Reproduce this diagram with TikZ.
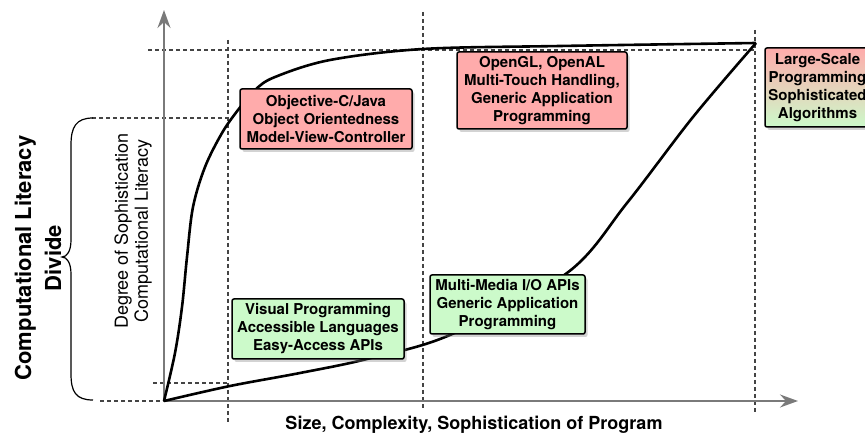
\documentclass[tikz,border=0pt]{standalone}
\usepackage{fontspec}
\setmainfont{TeX Gyre Heros}
\usetikzlibrary{arrows.meta,shadows}
\definecolor{boxpink}{HTML}{FFABAB}
\definecolor{boxgreen}{HTML}{CCFACA}
\definecolor{axisgray}{HTML}{7A7A7A}
\definecolor{dashgray}{HTML}{444444}
\tikzset{
  infobox/.style={draw=black, line width=1.5pt, rounded corners=2pt, align=center,
    inner sep=0pt, font=\bfseries\fontsize{15}{18}\selectfont,
    drop shadow={opacity=0.35, shadow xshift=2.5pt, shadow yshift=-3pt}},
  pinkbox/.style={infobox, fill=boxpink},
  greenbox/.style={infobox, fill=boxgreen},
  mixbox/.style={infobox, top color=boxpink, bottom color=boxgreen},
  axisline/.style={draw=axisgray, line width=2pt, -{Stealth[length=18pt,width=13pt,inset=6pt]}},
  guide/.style={draw=dashgray, line width=1.1pt, dash pattern=on 4pt off 3pt},
  curveline/.style={draw=black, line width=2.6pt},
}
\begin{document}
\begin{tikzpicture}[x=1pt,y=-1pt]
\useasboundingbox (0,0) rectangle (865,438);
% key points
\coordinate (O) at (164,401);
\coordinate (P) at (756,43);
\coordinate (ytip) at (164,10);
\coordinate (xtip) at (798,401);
% dashed guides
\coordinate (g1a) at (148,50);  \coordinate (g1b) at (756,50);
\coordinate (g2a) at (228,40);  \coordinate (g2b) at (228,422);
\coordinate (g3a) at (423,12);  \coordinate (g3b) at (423,410);
\coordinate (g4a) at (755,30);  \coordinate (g4b) at (755,413);
\coordinate (g5a) at (92,118);  \coordinate (g5b) at (230,118);
\coordinate (g6a) at (153,383); \coordinate (g6b) at (228,383);
\coordinate (g7a) at (100,401);
\draw[guide] (g1a) -- (g1b);
\draw[guide] (g2a) -- (g2b);
\draw[guide] (g3a) -- (g3b);
\draw[guide] (g4a) -- (g4b);
\draw[guide] (g5a) -- (g5b);
\draw[guide] (g6a) -- (g6b);
\draw[guide] (g7a) -- (O);
% axes
\draw[axisline] (O) -- (ytip);
\draw[axisline] (O) -- (xtip);
% curves
\draw[curveline, line join=round] plot[smooth, tension=0.55] coordinates {(164,401) (175,353) (182,307) (187,257) (193,207) (205,167) (222,133) (238,110) (255,90) (275,77) (330,60) (423,49) (560,46) (756,43)};
\draw[curveline, line join=round] plot[smooth, tension=0.55] coordinates {(164,401) (230,386) (300,373) (367,359) (450,335) (567,273) (627,203) (693,117) (756,43)};
% brace
\draw[line width=1.2pt] (93,118) .. controls (76,118) and (71,127) .. (71,145) -- (71,240)
  .. controls (71,251) and (67,257) .. (62,257) .. controls (67,257) and (71,263) .. (71,274)
  -- (71,374) .. controls (71,392) and (76,400) .. (93,400);
% labels
\node[rotate=90, align=center, font=\bfseries\fontsize{22}{30}\selectfont] (divide) at (38,258) {Computational Literacy\\Divide};
\node[rotate=90, align=center, font=\fontsize{18}{20}\selectfont] (ylab) at (133,231) {Degree of Sophistication\\Computational Literacy};
\node[font=\bfseries\fontsize{18}{20}\selectfont] (xlab) at (474,425) {Size, Complexity, Sophistication of Program};
% boxes
\node[pinkbox, minimum width=172pt, minimum height=60pt] (objc) at (326,119) {Objective-C/Java\\Object Orientedness\\Model-View-Controller};
\node[pinkbox, minimum width=170pt, minimum height=77pt] (opengl) at (542,90.5) {OpenGL, OpenAL\\Multi-Touch Handling,\\Generic Application\\Programming};
\node[mixbox, minimum width=105pt, minimum height=79pt] (large) at (817.5,87.5) {Large-Scale\\Programming\\Sophisticated\\Algorithms};
\node[greenbox, minimum width=172pt, minimum height=60pt] (visual) at (318,329) {Visual Programming\\Accessible Languages\\Easy-Access APIs};
\node[greenbox, minimum width=155pt, minimum height=59pt] (media) at (507.5,304.5) {Multi-Media I/O APIs\\Generic Application\\Programming};
\end{tikzpicture}
\end{document}
